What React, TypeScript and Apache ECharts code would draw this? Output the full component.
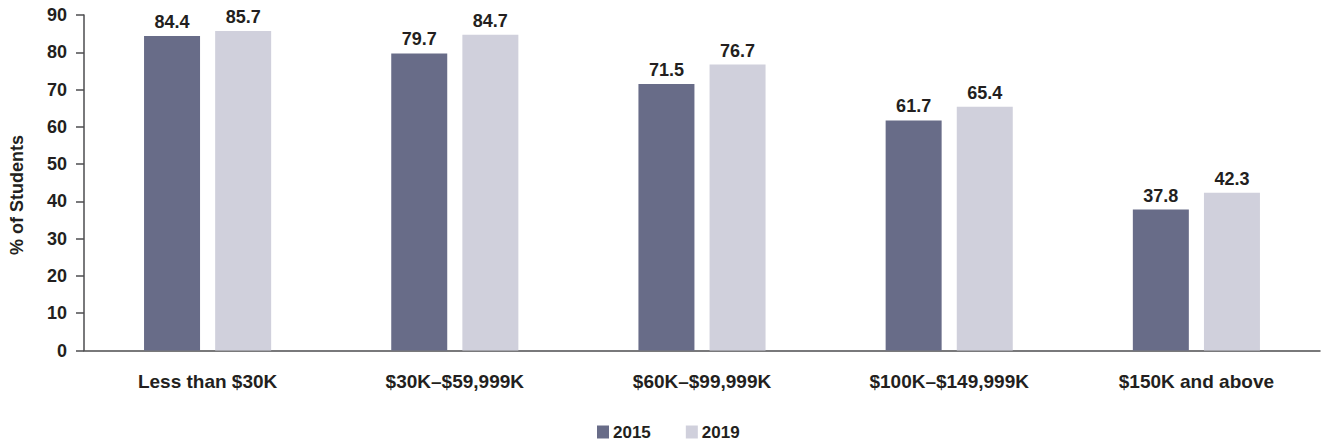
import React, { useEffect, useRef } from "react";
import * as echarts from "echarts";

const categories = ["Less than $30K", "$30K–$59,999K", "$60K–$99,999K", "$100K–$149,999K", "$150K and above"];
const series2015 = [84.4, 79.7, 71.5, 61.7, 37.8];
const series2019 = [85.7, 84.7, 76.7, 65.4, 42.3];
const yTicks = [0, 10, 20, 30, 40, 50, 60, 70, 80, 90];

const FONT = "'Liberation Sans', Arial, Helvetica, sans-serif";
const TEXT = "#231f20";

export default function App() {
  const ref = useRef<HTMLDivElement>(null);
  useEffect(() => {
    if (!ref.current) return;
    const chart = echarts.init(ref.current, null, { renderer: "svg" });
    const label = {
      show: true,
      position: "top" as const,
      distance: 5,
      color: TEXT,
      fontWeight: "bold" as const,
      fontSize: 18,
      fontFamily: FONT,
      formatter: (p: any) => Number(p.value).toFixed(1),
    };
    chart.setOption({
      animation: false,
      textStyle: { fontFamily: FONT },
      grid: { left: 84, right: 2, top: 15, bottom: 91.5, containLabel: false },
      legend: {
        top: 423,
        left: 597,
        padding: 0,
        itemWidth: 12,
        itemHeight: 13,
        itemGap: 35,
        icon: "rect",
        textStyle: { color: TEXT, fontWeight: "bold", fontSize: 17, fontFamily: FONT, padding: [0, 0, 0, -1], lineHeight: 18 },
        data: ["2015", "2019"],
      },
      graphic: [
        {
          type: "text",
          x: 17,
          y: 195,
          rotation: Math.PI / 2,
          style: {
            text: "% of Students",
            fill: TEXT,
            font: `bold 18px ${FONT}`,
            align: "center",
            verticalAlign: "middle",
          },
        },
      ],
      xAxis: {
        type: "category",
        data: categories,
        axisLine: { show: true, lineStyle: { color: "#4d4d4f", width: 1.5 } },
        axisTick: { show: false },
        axisLabel: { color: TEXT, fontWeight: "bold", fontSize: 19, fontFamily: FONT, margin: 21 },
      },
      yAxis: {
        type: "value",
        min: yTicks[0],
        max: yTicks[yTicks.length - 1],
        interval: 10,
        splitLine: { show: false },
        axisLine: { show: true, lineStyle: { color: "#4d4d4f", width: 1.5 } },
        axisTick: { show: true, length: 8, lineStyle: { color: "#4d4d4f", width: 1.5 } },
        axisLabel: { color: TEXT, fontWeight: "bold", fontSize: 18, fontFamily: FONT, margin: 17 },
      },
      series: [
        {
          name: "2015",
          type: "bar",
          data: series2015,
          barWidth: 56,
          barGap: "27%",
          itemStyle: { color: "#686c88" },
          label,
        },
        {
          name: "2019",
          type: "bar",
          data: series2019,
          barWidth: 56,
          itemStyle: { color: "#d0d0dc" },
          label,
        },
      ],
    });
    return () => chart.dispose();
  }, []);
  return <div ref={ref} style={{ width: 1322, height: 442, position: "absolute", left: 0, top: 0 }} />;
}
